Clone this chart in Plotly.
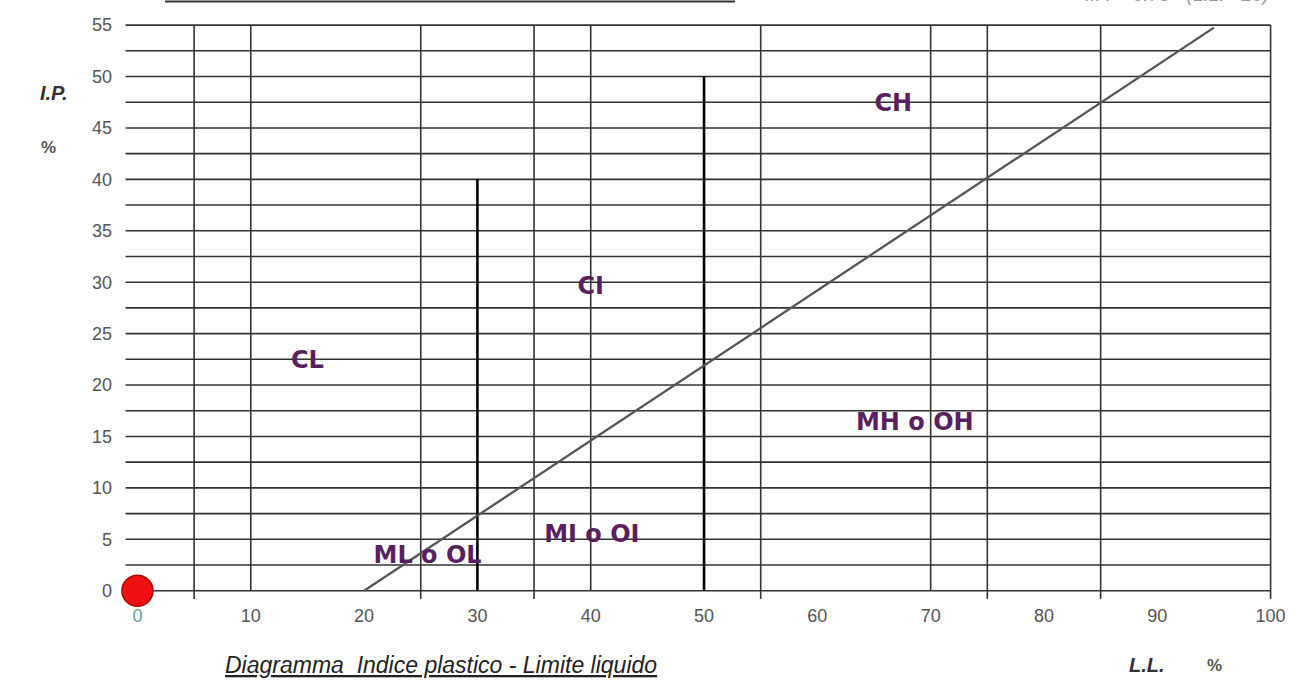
import plotly.graph_objects as go

# ---- data ----
X_TICKS = [0, 10, 20, 30, 40, 50, 60, 70, 80, 90, 100]
Y_TICKS = [0, 5, 10, 15, 20, 25, 30, 35, 40, 45, 50, 55]
H_GRID = [0, 2.5, 5, 7.5, 10, 12.5, 15, 17.5, 20, 22.5, 25, 27.5, 30, 32.5,
          35, 37.5, 40, 42.5, 45, 47.5, 50, 52.5, 55]
V_GRID = [5, 10, 25, 35, 40, 55, 70, 75, 85, 100]
V_STUBS = [5, 25, 35, 55, 75, 85, 100]
ALINE_LL = [20, 95]
ALINE_IP = [0, 54.75]
DIV_LL = [30, 50]
DIV_TOP = [40, 50]
ZONE_NAMES = ["CH", "CI", "CL", "MH o OH", "MI o OI", "ML o OL"]
ZONE_LL = [66.7, 40.0, 15.0, 68.6, 40.1, 25.6]
ZONE_IP = [47.2, 29.4, 22.2, 16.2, 5.3, 3.3]
SAMPLE_LL = [0]
SAMPLE_IP = [0]

X_MIN, X_MAX = -1.1, 100.3
Y_MIN, Y_MAX = -1.0, 55.3
H_START = -1.05
STUB_BOTTOM = -0.8

W, H = 1298, 681
ML, MR, MT, MB = 125, 24, 22, 80
PW, PH = W - ML - MR, H - MT - MB


def px(xs):
    return (xs - ML) / PW


def py(ys):
    return 1 + (MT - ys) / PH


GRID_COLOR = "#333333"
TEXT_COLOR = "#5a1f5e"

fig = go.Figure()

# horizontal grid lines
hx, hy = [], []
for v in H_GRID:
    hx += [H_START, 100, None]
    hy += [v, v, None]
fig.add_trace(go.Scatter(x=hx, y=hy, mode="lines", hoverinfo="skip",
                         line=dict(color=GRID_COLOR, width=1.6), showlegend=False))

# vertical grid lines
vx, vy = [], []
for v in V_GRID:
    vx += [v, v, None]
    vy += [0, 55, None]
fig.add_trace(go.Scatter(x=vx, y=vy, mode="lines", hoverinfo="skip",
                         line=dict(color=GRID_COLOR, width=1.6), showlegend=False))

# small tick stubs below the axis
sx, sy = [], []
for v in V_STUBS:
    sx += [v, v, None]
    sy += [STUB_BOTTOM, 0, None]
fig.add_trace(go.Scatter(x=sx, y=sy, mode="lines", hoverinfo="skip",
                         line=dict(color=GRID_COLOR, width=1.6), showlegend=False))

# dividing vertical lines (LL = 30, LL = 50)
dx, dy = [], []
for xv, top in zip(DIV_LL, DIV_TOP):
    dx += [xv, xv, None]
    dy += [0, top, None]
fig.add_trace(go.Scatter(x=dx, y=dy, mode="lines", hoverinfo="skip",
                         line=dict(color="#000000", width=2.6), showlegend=False))

# A-line
fig.add_trace(go.Scatter(x=ALINE_LL, y=ALINE_IP, mode="lines", hoverinfo="skip",
                         line=dict(color="#555555", width=2.3), showlegend=False))

# zone labels
fig.add_trace(go.Scatter(x=ZONE_LL, y=ZONE_IP, mode="text", text=ZONE_NAMES,
                         textposition="middle center", hoverinfo="skip",
                         textfont=dict(family="DejaVu Sans", size=24,
                                       color=TEXT_COLOR, weight="bold"),
                         showlegend=False, cliponaxis=False))

# sample point
fig.add_trace(go.Scatter(x=SAMPLE_LL, y=SAMPLE_IP, mode="markers",
                         marker=dict(size=31, color="#ee1111",
                                     line=dict(color="#b00000", width=1.5)),
                         showlegend=False, cliponaxis=False))

x_text = ['<span style="color:#5f9f9f">0</span>'] + [str(v) for v in X_TICKS[1:]]


def note(text, xs, ys, size, color, yanchor="middle"):
    return dict(text=text, xref="paper", yref="paper", x=px(xs), y=py(ys),
                xanchor="center", yanchor=yanchor, showarrow=False,
                font=dict(size=size, color=color))


fig.update_layout(
    width=W, height=H,
    margin=dict(l=ML, r=MR, t=MT, b=MB),
    paper_bgcolor="white", plot_bgcolor="white",
    font=dict(family="Liberation Sans, Arial", size=18, color="#555555"),
    xaxis=dict(range=[X_MIN, X_MAX], showgrid=False, zeroline=False,
               showline=False, tickvals=X_TICKS, ticktext=x_text, ticks="",
               ticklabelstandoff=2, fixedrange=True),
    yaxis=dict(range=[Y_MIN, Y_MAX], showgrid=False, zeroline=False,
               showline=False, tickvals=Y_TICKS, ticks="",
               ticklabelstandoff=12, fixedrange=True),
    annotations=[
        note("<b><i>I.P.</i></b>", 53, 93, 20, "#333333"),
        note("<b>%</b>", 48, 147, 17, "#555555"),
        note("<i><u>Diagramma  Indice plastico - Limite liquido</u></i>",
             441, 665, 23, "#222222"),
        note("<b><i>L.L.</i></b>", 1147, 665, 20, "#333333"),
        note("<b>%</b>", 1214, 665, 17, "#555555"),
        note("<i>I.P. = 0.73 · (L.L. - 20)</i>", 1177, 7, 19, "#999999",
             yanchor="bottom"),
    ],
    shapes=[
        dict(type="line", xref="paper", yref="paper",
             x0=px(165), x1=px(735), y0=py(1.5), y1=py(1.5),
             line=dict(color="#333333", width=2)),
    ],
)

fig.write_html("out.html", config={"displayModeBar": False},
               post_script="document.body.style.margin='0';document.body.style.overflow='hidden';")
